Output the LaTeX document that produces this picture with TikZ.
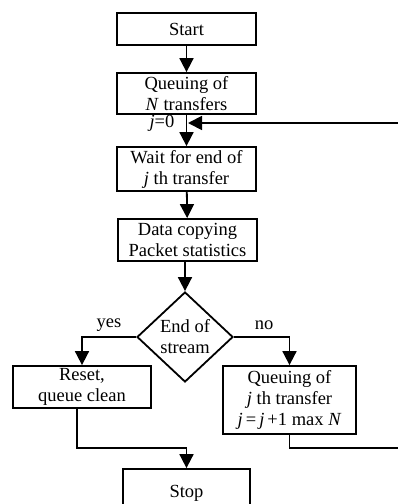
\documentclass[tikz,border=0pt]{standalone}
\usepackage{fontspec}
\setmainfont{Liberation Serif}
\usepackage{tikz}
\usetikzlibrary{positioning, arrows.meta, shapes.geometric}

\begin{document}
\begin{tikzpicture}[
		x=1pt, y=-1pt,
		line width=1.8pt,
		>={Triangle[width=14pt,length=14pt]},
		font=\fontsize{18.5}{21}\selectfont,
		process/.style={draw, rectangle, align=center, inner sep=1pt, minimum width=139pt},
		decision/.style={draw, diamond, align=center, inner sep=0pt, minimum width=96pt, minimum height=90pt},
		flow/.style={->}]

	\useasboundingbox (0,0) rectangle (397,504);

	\node[process, minimum height=32pt] (start) at (186.5,29) {Start};
	\node[process, minimum height=41pt] (queue_n) at (186.5,93.5) {Queuing of\\\textit{N} transfers};
	\node[process, minimum height=44pt] (wait_end) at (186.5,169) {Wait for end of\\\textit{j} th transfer};
	\node[process, minimum height=42pt] (data_copy) at (187.5,240) {Data copying\\Packet statistics};
	\node[decision] (end_stream) at (185,337) {End of\\stream};
	\node[process, minimum height=42pt, minimum width=138pt] (reset) at (82,387) {Reset,\\queue clean};
	\node[process, minimum height=68pt, minimum width=133pt] (queue_j) at (289.5,400) {Queuing of\\\textit{j} th transfer\\\textit{j}\,=\,\textit{j}\,+1 max \textit{N}};
	\node[process, minimum height=48pt, minimum width=127pt] (stop) at (186.5,493) {Stop};

	\node (j_init) at (162,123) {\textit{j}=0};
	\node (yes) at (109,325) {yes};
	\node (no) at (264,325) {no};

	\coordinate (reset_turn) at (77,448);
	\coordinate (loop_bottom) at (401,448);
	\coordinate (loop_top) at (401,123);

	\draw[flow] (start) -- (queue_n);
	\draw[flow] (queue_n) -- (wait_end);
	\draw[flow] (wait_end) -- (data_copy);
	\draw[flow] (data_copy.south -| end_stream.north) -- (end_stream.north);
	\draw[flow] (end_stream.west) -| (reset.north);
	\draw[flow] (end_stream.east) -| (queue_j.north);
	\draw[flow] ([xshift=-5pt]reset.south) -- (reset_turn) -| (stop.north);
	\draw[flow] (queue_j.south) |- (loop_bottom) -- (loop_top) -- ([xshift=1.5pt]queue_n.south |- loop_top);

\end{tikzpicture}
\end{document}
